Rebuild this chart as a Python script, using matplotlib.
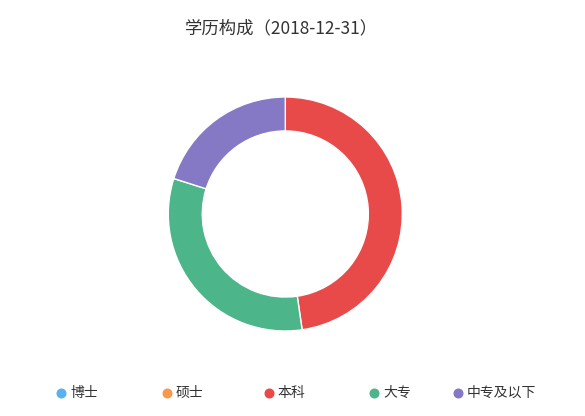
import matplotlib
matplotlib.use('Agg')
import matplotlib.pyplot as plt
from matplotlib.lines import Line2D

plt.rcParams['font.family'] = ['Noto Sans CJK SC', 'DejaVu Sans']

# 학력 구성 데이터 (그림에서 읽은 비율, %)
labels = ['博士', '硕士', '本科', '大专', '中专及以下']
values = [0, 0, 47.7, 32.2, 20.1]
colors = ['#5ab1ef', '#f5994e', '#e84a4a', '#4cb58a', '#8579c5']
title = '学历构成（2018-12-31）'

W, H = 585, 416
fig = plt.figure(figsize=(W / 100, H / 100), dpi=100)
fig.patch.set_facecolor('white')

# 도넛 위치 (픽셀 기준)
cx, cy, r = 285.3, 214, 117
ax = fig.add_axes([(cx - r) / W, (H - cy - r) / H, 2 * r / W, 2 * r / H])
ax.pie(values, colors=colors, startangle=90, counterclock=False, radius=1,
       wedgeprops=dict(width=0.29, edgecolor='white', linewidth=1))
ax.set_xlim(-1, 1)
ax.set_ylim(-1, 1)
ax.set_aspect('equal')
ax.axis('off')

fig.text(282 / W, 1 - 28 / H, title, ha='center', va='center',
         fontsize=12.5, color='#333333')

# 범례 (직접 배치)
leg_x = [61, 167, 269, 374, 458]
leg_y = 1 - 392.5 / H
for x, lab, c in zip(leg_x, labels, colors):
    fig.add_artist(Line2D([x / W], [leg_y], marker='o', markersize=6.2,
                          color=c, linestyle='none', transform=fig.transFigure))
    fig.text((x + 9) / W, leg_y, lab, ha='left', va='center',
             fontsize=10, color='#333333')

plt.savefig('out.png', dpi=100, facecolor='white')
